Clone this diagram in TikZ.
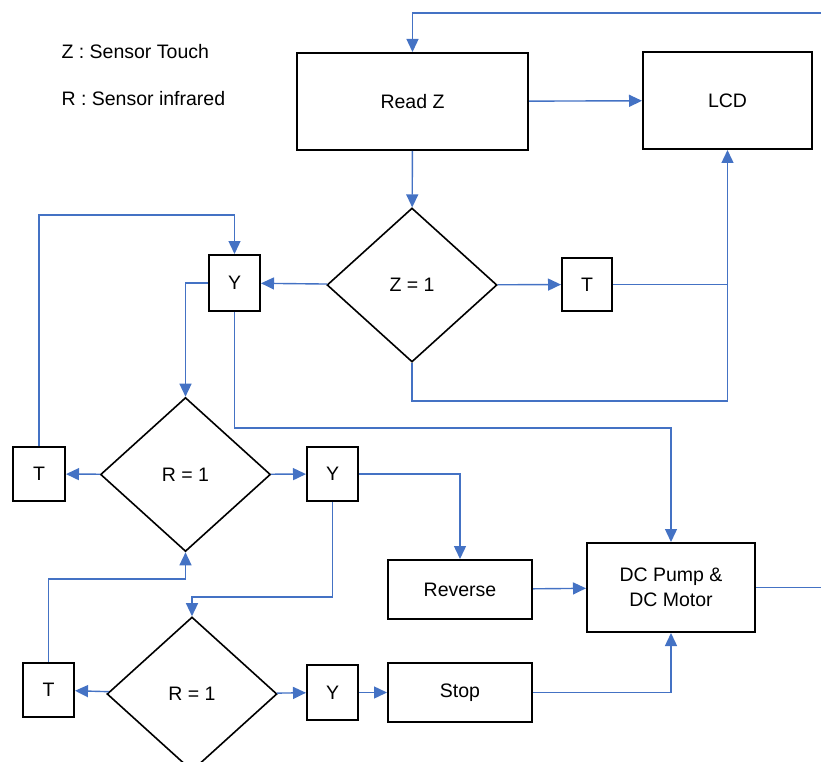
\documentclass[tikz,border=0pt]{standalone}
\usepackage{fontspec}
\setmainfont{Liberation Sans}
\usepackage{xcolor}
\usepackage{tikz}
\usetikzlibrary{shapes,arrows,positioning,calc,arrows.meta}
\definecolor{linkblue}{RGB}{68,114,196}

\begin{document}
\begin{tikzpicture}[x=1pt,y=-1pt,
    font=\fontsize{19.5}{25}\selectfont,
    box/.style={draw=black, line width=2pt, rectangle, align=center, inner sep=0pt},
    decide/.style={draw=black, line width=1.6pt, diamond, aspect=1.1, inner sep=0pt,
        minimum width=170pt, minimum height=154pt},
    link/.style={draw=linkblue, line width=1.4pt},
    flow/.style={link, -{Triangle[length=13pt,width=12pt]}}]
    \clip (0,0) rectangle (821,762);
    % legend
    \node [anchor=west] (legz) at (58,52) {Z : Sensor Touch};
    \node [anchor=west] (legr) at (58,99) {R : Sensor infrared};
    % blocks
    \node [box, minimum width=231pt, minimum height=97pt] (readz) at (412.5,101.5) {Read Z};
    \node [box, minimum width=169pt, minimum height=97pt] (lcd) at (727.5,100.5) {LCD};
    \node [decide] (dz) at (412,285) {Z = 1};
    \node [box, minimum width=50pt, minimum height=53pt] (tz) at (587,284.5) {T};
    \node [box, minimum width=51pt, minimum height=56pt] (yz) at (234.5,283) {Y};
    \node [decide] (dra) at (185.5,474.5) {R = 1};
    \node [box, minimum width=52pt, minimum height=54pt] (tra) at (39,474) {T};
    \node [box, minimum width=51pt, minimum height=54pt] (yra) at (332.5,474) {Y};
    \node [box, minimum width=144pt, minimum height=59pt] (rev) at (460,589.5) {Reverse};
    \node [box, minimum width=168pt, minimum height=89pt] (pump) at (671,587.5) {DC Pump \&\\DC Motor};
    \node [decide] (drb) at (192,694) {R = 1};
    \node [box, minimum width=51pt, minimum height=54pt] (trb) at (48.5,690) {T};
    \node [box, minimum width=51pt, minimum height=55pt] (yrb) at (332.5,692.5) {Y};
    \node [box, minimum width=144pt, minimum height=59pt] (stop) at (460,692.5) {Stop};
    % free ends and joints
    \coordinate (in) at (821,13);
    \coordinate (out) at (821,587.5);
    \coordinate (jz) at (tz -| lcd);
    % connectors
    \draw [flow] (in) -| (readz);
    \draw [flow] (readz) -- (lcd);
    \draw [flow] (readz) -- (dz);
    \draw [flow] (dz) -- (tz);
    \draw [flow] (tz) -- (jz) -- (lcd);
    \draw [link] (dz.south) -- (dz.south |- 0,401) -| (jz);
    \draw [flow] (dz) -- (yz);
    \draw [flow] (yz.west) -| (dra);
    \draw [flow] (yz.south) -- (yz.south |- 0,428) -| (pump);
    \draw [flow] (tra.north) -- (tra.north |- 0,215) -| (yz);
    \draw [flow] (dra) -- (tra);
    \draw [flow] (dra) -- (yra);
    \draw [flow] (yra) -| (rev);
    \draw [flow] (rev) -- (pump);
    \draw [link] (pump.east) -- (out);
    \draw [flow] (yra.south) -- (yra.south |- 0,597) -| (drb);
    \draw [flow] (drb) -- (trb);
    \draw [flow] (drb) -- (yrb);
    \draw [flow] (yrb) -- (stop);
    \draw [flow] (trb.north) -- (trb.north |- 0,579) -| (dra);
    \draw [flow] (stop) -| (pump);
\end{tikzpicture}
\end{document}
